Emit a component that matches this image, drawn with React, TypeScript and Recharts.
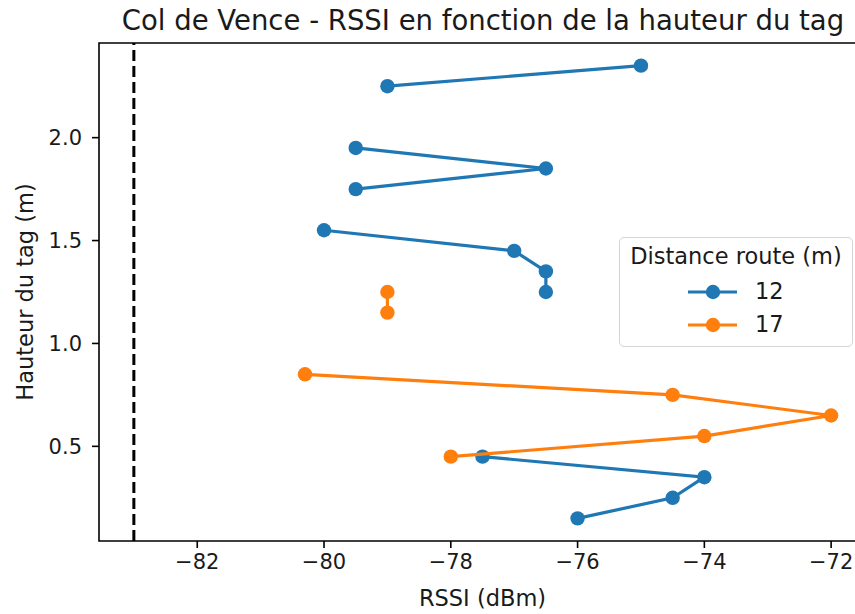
import React from 'react';
import {
  ScatterChart,
  Scatter,
  XAxis,
  YAxis,
  ReferenceLine,
  ReferenceArea,
  Legend,
} from 'recharts';

// valeurs, null = coupure de la ligne
const RSSI_12 = [-75, -79, null, -79.5, -76.5, -79.5, null, -80, -77, -76.5, -76.5, null, -77.5, -74, -74.5, -76];
const HAUTEUR_12 = [2.35, 2.25, null, 1.95, 1.85, 1.75, null, 1.55, 1.45, 1.35, 1.25, null, 0.45, 0.35, 0.25, 0.15];
const RSSI_17 = [-79, -79, null, -80.3, -74.5, -72, -74, -78];
const HAUTEUR_17 = [1.25, 1.15, null, 0.85, 0.75, 0.65, 0.55, 0.45];

const X_TICKS = [-82, -80, -78, -76, -74, -72];
const Y_TICKS = [0.5, 1.0, 1.5, 2.0];
const SEUIL = -83;

const FONT = '"DejaVu Sans", sans-serif';
const BLUE = '#1f77b4';
const ORANGE = '#ff7f0e';
const MARKER_R = 7.2;

type Pt = { x: number; y: number };

function segments(xs: (number | null)[], ys: (number | null)[]): Pt[][] {
  const out: Pt[][] = [];
  let cur: Pt[] = [];
  xs.forEach((x, i) => {
    const y = ys[i];
    if (x === null || y === null) {
      if (cur.length) out.push(cur);
      cur = [];
    } else {
      cur.push({ x, y });
    }
  });
  if (cur.length) out.push(cur);
  return out;
}

const SERIES = [
  { name: '12', color: BLUE, segs: segments(RSSI_12, HAUTEUR_12) },
  { name: '17', color: ORANGE, segs: segments(RSSI_17, HAUTEUR_17) },
];

const minus = (v: number) => (v < 0 ? `\u2212${Math.abs(v)}` : `${v}`);

function LegendBox({ payload }: any) {
  const items = (payload || []).filter((p: any) => p.type !== 'none');
  return (
    <div
      style={{
        boxSizing: 'border-box',
        width: 234,
        height: 110,
        border: '1.5px solid #d4d4d4',
        borderRadius: 5,
        background: 'rgba(255,255,255,0.8)',
        fontFamily: FONT,
        fontSize: 22.5,
        color: '#1a1a1a',
        textAlign: 'left',
      }}
    >
      <div style={{ height: 37, lineHeight: '37px', textAlign: 'center' }}>Distance route (m)</div>
      {items.map((it: any) => (
        <div key={it.value} style={{ height: 33, lineHeight: '33px', display: 'flex', alignItems: 'center' }}>
          <svg width={49} height={16} style={{ marginLeft: 68 }}>
            <line x1={0} y1={8} x2={49} y2={8} stroke={it.color} strokeWidth={3.2} />
            <circle cx={25} cy={8} r={MARKER_R} fill={it.color} />
          </svg>
          <span style={{ marginLeft: 18 }}>{it.value}</span>
        </div>
      ))}
    </div>
  );
}

export default function App() {
  return (
    <div style={{ position: 'absolute', left: 0, top: 0, width: 855, height: 614, overflow: 'hidden', background: '#fff' }}>
      <div
        style={{
          position: 'absolute',
          left: 0,
          top: 5,
          width: 966,
          textAlign: 'center',
          fontFamily: FONT,
          fontSize: 27.5,
          lineHeight: '30px',
          color: '#1a1a1a',
          whiteSpace: 'nowrap',
        }}
      >
        Col de Vence - RSSI en fonction de la hauteur du tag
      </div>
      <ScatterChart width={880} height={614} margin={{ top: 43, right: 14, bottom: 0, left: 0 }}>
        <XAxis
          type="number"
          dataKey="x"
          domain={[-83.55, -71.45]}
          ticks={X_TICKS}
          allowDataOverflow
          height={73}
          axisLine={false}
          tickSize={7}
          tickMargin={6}
          tickLine={{ stroke: '#000', strokeWidth: 1.6 }}
          tick={{ fill: '#1a1a1a', fontSize: 21, fontFamily: FONT }}
          tickFormatter={minus}
          label={{ value: 'RSSI (dBm)', position: 'insideBottom', offset: 8, fill: '#1a1a1a', fontSize: 22.5, fontFamily: FONT }}
        />
        <YAxis
          type="number"
          dataKey="y"
          domain={[0.04, 2.46]}
          ticks={Y_TICKS}
          allowDataOverflow
          width={99}
          axisLine={false}
          tickSize={7}
          tickMargin={10}
          tickLine={{ stroke: '#000', strokeWidth: 1.6 }}
          tick={{ fill: '#1a1a1a', fontSize: 21, fontFamily: FONT }}
          tickFormatter={(v: number) => v.toFixed(1)}
          label={{
            value: 'Hauteur du tag (m)',
            angle: -90,
            position: 'insideLeft',
            offset: 25,
            fill: '#1a1a1a',
            fontSize: 22.5,
            fontFamily: FONT,
            style: { textAnchor: 'middle' },
          }}
        />
        <ReferenceLine x={SEUIL} stroke="#000" strokeWidth={3} strokeDasharray="11 5" />
        {SERIES.map((s) =>
          s.segs.map((seg, i) => (
            <Scatter
              key={`${s.name}-${i}`}
              name={s.name}
              data={seg}
              fill={s.color}
              line={{ stroke: s.color, strokeWidth: 3.2 }}
              lineType="joint"
              legendType={i === 0 ? 'circle' : 'none'}
              shape={(p: any) => <circle cx={p.cx} cy={p.cy} r={MARKER_R} fill={s.color} />}
              isAnimationActive={false}
            />
          ))
        )}
        <ReferenceArea
          x1={-83.55}
          x2={-71.45}
          y1={0.04}
          y2={2.46}
          fill="none"
          fillOpacity={0}
          stroke="#000"
          strokeWidth={1.6}
          ifOverflow="visible"
        />
        <Legend
          layout="horizontal"
          align="center"
          verticalAlign="middle"
          content={<LegendBox />}
          wrapperStyle={{ position: 'absolute', left: 619, top: 237, width: 234, height: 110 }}
        />
      </ScatterChart>
    </div>
  );
}
